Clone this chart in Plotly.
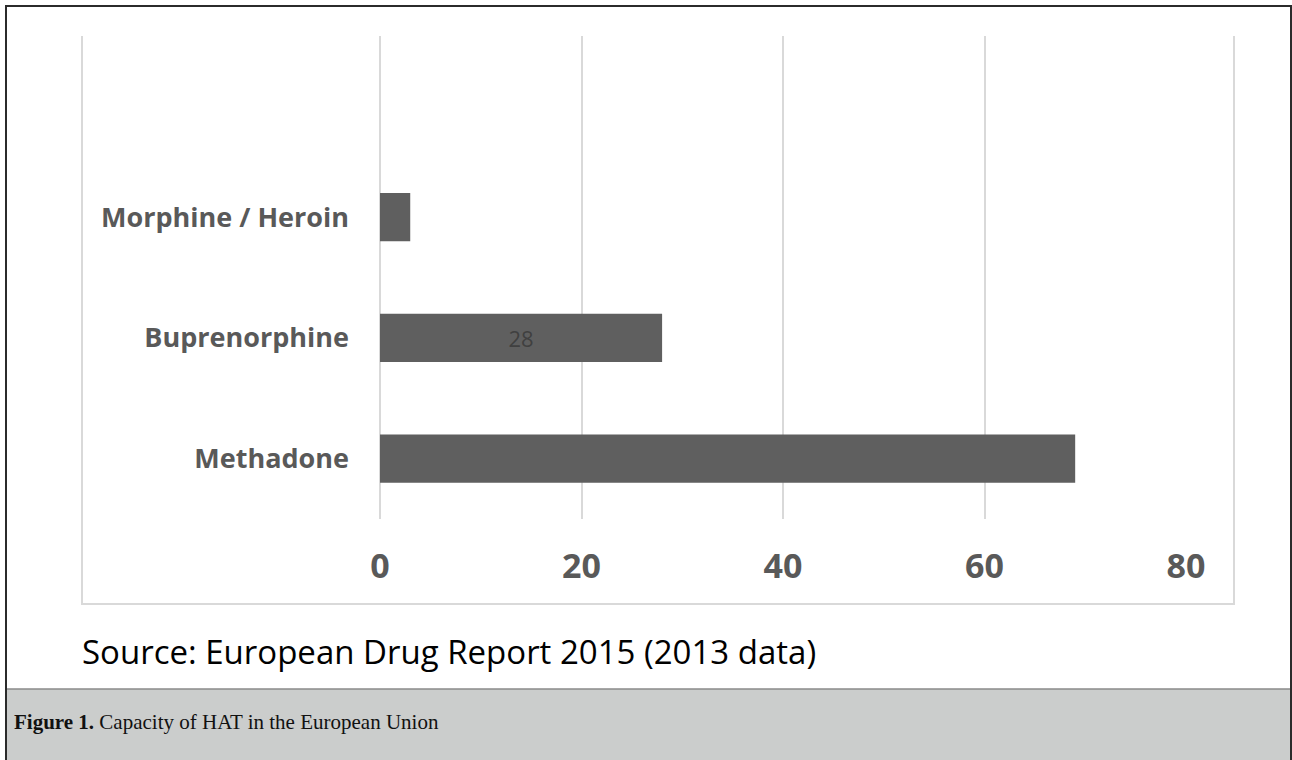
import plotly.graph_objects as go

# ---- data ----
categories = ["Methadone", "Buprenorphine", "Morphine / Heroin"]
values = [69, 28, 3]
bar_labels = ["", "28", ""]
x_ticks = [0, 20, 40, 60, 80]
source_text = "Source: European Drug Report 2015 (2013 data)"
caption_bold = "Figure 1."
caption_text = " Capacity of HAT in the European Union"

W, H = 1292, 760
PL, PR, PT, PB = 380, 1186, 36, 519  # plot area in pixels


def px(x):
    return (x - PL) / (PR - PL)


def py(y):
    return (PB - y) / (PB - PT)


fig = go.Figure()
fig.add_trace(go.Bar(
    y=categories, x=values, orientation="h",
    marker=dict(color="#5f5f5f", line=dict(width=0)),
    width=0.4,
    text=bar_labels, textposition="inside", insidetextanchor="middle",
    textangle=0,
    textfont=dict(family="Open Sans", size=22, color="#404040"),
    hoverinfo="skip",
))

shapes = []
# caption band
shapes.append(dict(type="rect", xref="paper", yref="paper",
                   x0=px(6), x1=px(1291), y0=py(689), y1=py(762),
                   fillcolor="#cbcdcc", line=dict(width=0), layer="below"))
shapes.append(dict(type="line", xref="paper", yref="paper",
                   x0=px(6), x1=px(1291), y0=py(689), y1=py(689),
                   line=dict(color="#8a8a8a", width=1.5)))
# outer frame
for (x0, y0, x1, y1) in [(5, 6, 1292, 6), (6, 5, 6, 762), (1291, 5, 1291, 762)]:
    shapes.append(dict(type="line", xref="paper", yref="paper",
                       x0=px(x0), x1=px(x1), y0=py(y0), y1=py(y1),
                       line=dict(color="#2b2b2b", width=2)))
# chart box (light gray)
for (x0, y0, x1, y1) in [(82, 36, 82, 605), (81, 604, 1235, 604), (1234, 36, 1234, 605)]:
    shapes.append(dict(type="line", xref="paper", yref="paper",
                       x0=px(x0), x1=px(x1), y0=py(y0), y1=py(y1),
                       line=dict(color="#d9d9d9", width=2)))

annotations = [
    dict(xref="paper", yref="paper", x=px(80), y=py(651), xanchor="left", yanchor="middle",
         text=source_text, showarrow=False,
         font=dict(family="Open Sans", size=33, color="#000000")),
    dict(xref="paper", yref="paper", x=px(12), y=py(722), xanchor="left", yanchor="middle",
         text="<b>" + caption_bold + "</b>" + caption_text, showarrow=False,
         font=dict(family="Liberation Serif", size=21, color="#111111")),
]

fig.update_layout(
    width=W, height=H,
    margin=dict(l=PL, r=W - PR, t=PT, b=H - PB, pad=0),
    paper_bgcolor="white", plot_bgcolor="white",
    showlegend=False,
    bargap=0.6,
    shapes=shapes,
    annotations=annotations,
    xaxis=dict(range=[0, 80], tickvals=x_ticks, ticktext=[str(t) for t in x_ticks],
               showgrid=True, gridcolor="#d9d9d9", gridwidth=2,
               zeroline=True, zerolinecolor="#d9d9d9", zerolinewidth=2,
               showline=False, ticks="", ticklabelstandoff=24,
               tickfont=dict(family="Open Sans", size=34, color="#595959"),
               fixedrange=True),
    yaxis=dict(type="category", categoryorder="array", categoryarray=categories,
               range=[-0.5, 3.5], showgrid=False, zeroline=False, showline=False,
               ticks="", ticklabelstandoff=30,
               tickfont=dict(family="Open Sans", size=27, color="#595959"),
               fixedrange=True),
    font=dict(family="Open Sans"),
)
fig.update_xaxes(tickfont_weight="bold")
fig.update_yaxes(tickfont_weight="bold")

fig.write_html("out.html", config=dict(displayModeBar=False))
